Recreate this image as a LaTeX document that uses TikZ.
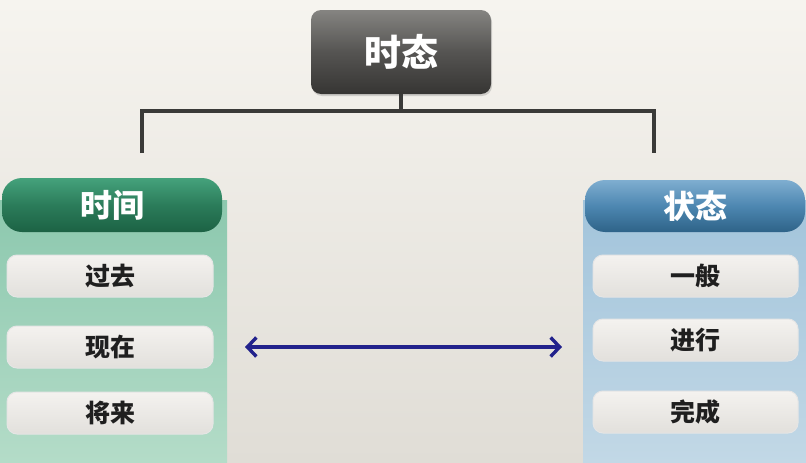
\documentclass[tikz,border=0pt]{standalone}
\usepackage{fontspec}
\newfontfamily\cjk{Noto Sans CJK SC}
\usetikzlibrary{arrows.meta,shadows}
\definecolor{bgtop}{HTML}{F6F4EF}
\definecolor{bgbot}{HTML}{E0DDD6}
\definecolor{toptop}{HTML}{858481}
\definecolor{topmid}{HTML}{555452}
\definecolor{topbot}{HTML}{363533}
\definecolor{gtop}{HTML}{45A27C}
\definecolor{gmid}{HTML}{2B7C5A}
\definecolor{gbot}{HTML}{1C6244}
\definecolor{gpan}{HTML}{8CC8AE}
\definecolor{gpan2}{HTML}{B4DCC8}
\definecolor{btop}{HTML}{7FAED0}
\definecolor{bmid}{HTML}{4D87B1}
\definecolor{bbot}{HTML}{2E6388}
\definecolor{bpan}{HTML}{A2C4DB}
\definecolor{bpan2}{HTML}{C2D8E6}
\definecolor{itop}{HTML}{F4F2EF}
\definecolor{ibot}{HTML}{E2E0DC}
\definecolor{linec}{HTML}{3A3A38}
\definecolor{arrc}{HTML}{22228C}
\begin{document}
\begin{tikzpicture}[x=1pt,y=-1pt,
  topbox/.style={rounded corners=10pt, minimum width=180pt, minimum height=84pt,
    top color=toptop, bottom color=topbot, middle color=topmid,
    text=white, font=\cjk\bfseries\fontsize{37}{39}\selectfont,
    drop shadow={shadow xshift=1pt, shadow yshift=-2pt, opacity=0.3}},
  greenhead/.style={rounded corners=20pt, minimum width=220pt, minimum height=54pt,
    top color=gtop, bottom color=gbot, middle color=gmid,
    text=white, font=\cjk\bfseries\fontsize{32}{34}\selectfont},
  bluehead/.style={rounded corners=20pt, minimum width=220pt, minimum height=52pt,
    top color=btop, bottom color=bbot, middle color=bmid,
    text=white, font=\cjk\bfseries\fontsize{32}{34}\selectfont},
  itembox/.style={rounded corners=10pt, minimum height=42pt,
    draw=white!80!gray, line width=1pt,
    top color=itop, bottom color=ibot,
    text=black!88, font=\cjk\bfseries\fontsize{25}{27}\selectfont},
  conn/.style={draw=linec, line width=3.2pt},
  biarrow/.style={draw=arrc, line width=3.4pt, {Straight Barb[length=9pt,width=19pt]}-{Straight Barb[length=9pt,width=19pt]}}
]
\useasboundingbox (0,0) rectangle (806,463);
% background
\shade[top color=bgtop, bottom color=bgbot] (0,0) rectangle (806,463);
% panels
\shade[top color=gpan, bottom color=gpan2] (0,200) rectangle (227,463);
\shade[top color=bpan, bottom color=bpan2] (583,200) rectangle (806,463);

\node[topbox] (top) at (401,52) {时态};

\node[greenhead] (lh) at (112,205) {时间};
\node[bluehead] (rh) at (695,206) {状态};

\node[itembox, minimum width=206pt] (l1) at (110,276) {过去};
\node[itembox, minimum width=206pt] (l2) at (110,347) {现在};
\node[itembox, minimum width=206pt] (l3) at (110,413) {将来};

\node[itembox, minimum width=205pt] (r1) at (695.5,276) {一般};
\node[itembox, minimum width=205pt] (r2) at (695.5,340) {进行};
\node[itembox, minimum width=205pt] (r3) at (695.5,412) {完成};

\coordinate (j) at (401,111);
\coordinate (lend) at (142,153);
\coordinate (rend) at (654,153);
\draw[conn] (top.south) -- (j);
\draw[conn] (lend) |- (j) -| (rend);

\coordinate (a1) at (245,347);
\coordinate (a2) at (562,347);
\draw[biarrow] (a1) -- (a2);
\end{tikzpicture}
\end{document}
